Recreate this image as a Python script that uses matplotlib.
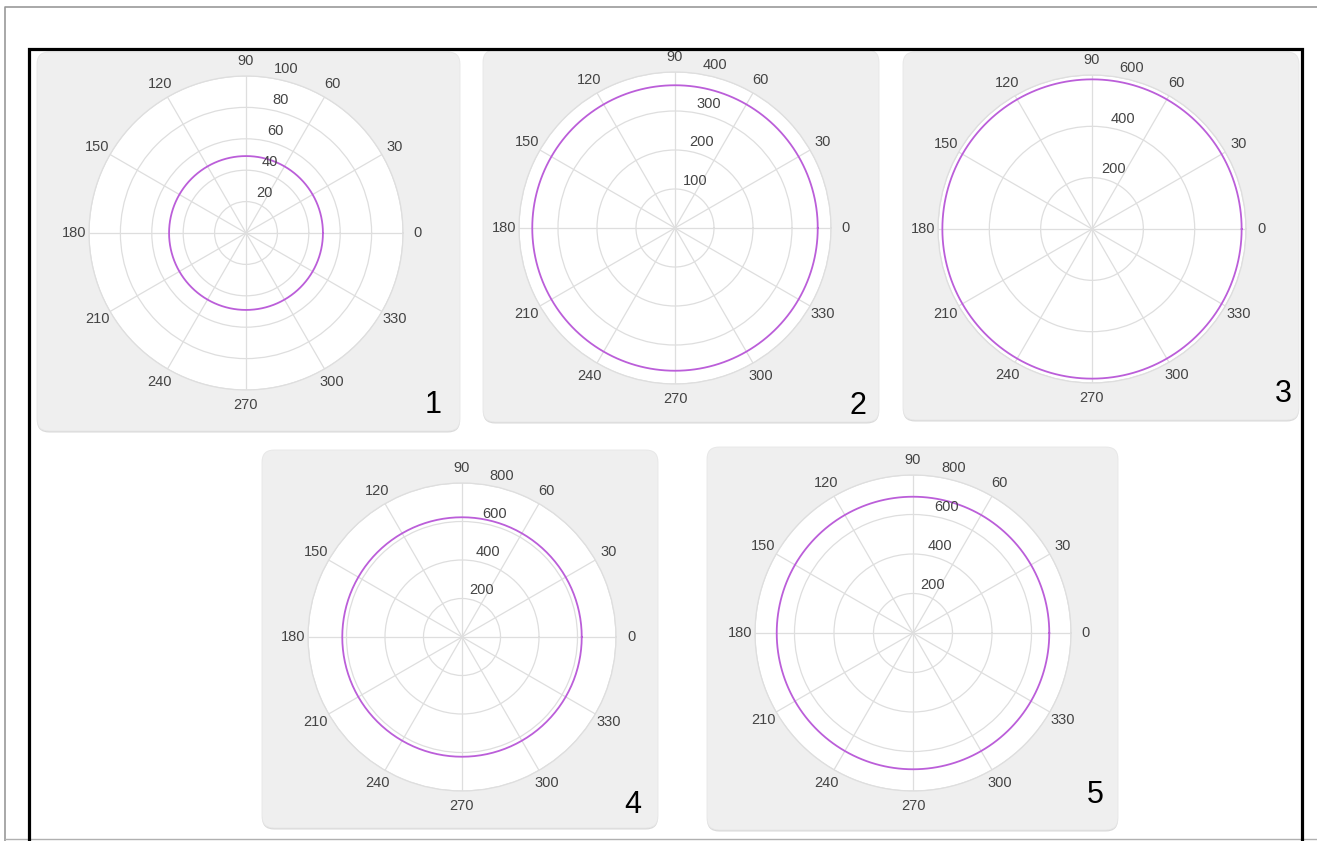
import numpy as np
import matplotlib.pyplot as plt
from matplotlib.patches import FancyBboxPatch
from matplotlib.transforms import offset_copy

plt.rcParams['font.family'] = ['Liberation Sans', 'DejaVu Sans']

W, H = 1317, 841

# one entry per polar panel
panel_names = ['1', '2', '3', '4', '5']
r_max = [100, 400, 600, 800, 800]
r_ticks = [
    [20, 40, 60, 80, 100],
    [100, 200, 300, 400],
    [200, 400, 600],
    [200, 400, 600, 800],
    [200, 400, 600, 800],
]
trace_r = [49, 366, 583, 622, 690]
theta_ticks = list(range(0, 360, 30))
theta_labels = [str(t) for t in theta_ticks]

# layout in pixels (x, y from top-left)
centers = [(246, 233), (675, 228), (1092, 229), (462, 637), (913, 633)]
radii = [157, 156, 154, 154, 158]
boxes = [(37, 52, 460, 431), (483, 50, 879, 422), (903, 52, 1299, 420),
         (262, 450, 658, 828), (707, 447, 1118, 830)]
number_pos = [(433, 405), (858, 406), (1283, 394), (633, 805), (1095, 795)]

trace_color = '#bb5ed9'
grid_color = '#dedede'
text_color = '#444444'
label_size = 10.5

fig = plt.figure(figsize=(W / 100, H / 100), dpi=100)
fig.patch.set_facecolor('white')

# background layer in pixel coordinates
bg = fig.add_axes([0, 0, 1, 1])
bg.set_xlim(0, W)
bg.set_ylim(H, 0)
bg.axis('off')
bg.set_zorder(-1)

# outer thin frame and thick black frame
bg.plot([5, 5, W + 5], [H + 5, 7, 7], color='#9a9a9a', lw=1.2)
bg.plot([5, W + 5], [839, 839], color='#b0b0b0', lw=1.0)
bg.plot([28.5, 28.5, 1301.5, 1301.5], [H + 5, 48.5, 48.5, H + 5],
        color='black', lw=2.3, solid_joinstyle='miter')

for (x0, y0, x1, y1), name, (nx, ny) in zip(boxes, panel_names, number_pos):
    shadow = FancyBboxPatch((x0, y0 + 1.5), x1 - x0, y1 - y0,
                            boxstyle='round,pad=0,rounding_size=12',
                            fc='#d9d9d9', ec='none')
    bg.add_patch(shadow)
    card = FancyBboxPatch((x0, y0), x1 - x0, y1 - y0,
                          boxstyle='round,pad=0,rounding_size=12',
                          fc='#efefef', ec='#e6e6e6', lw=0.6)
    bg.add_patch(card)
    bg.text(nx, ny, name, fontsize=22, ha='center', va='center', color='black')

theta = np.deg2rad(np.arange(0, 361))

for i in range(len(panel_names)):
    cx, cy = centers[i]
    R = radii[i]
    ax = fig.add_axes([(cx - R) / W, 1 - (cy + R) / H, 2 * R / W, 2 * R / H],
                      projection='polar')
    ax.set_facecolor('white')
    ax.plot(theta, np.full_like(theta, trace_r[i]), color=trace_color, lw=1.3)
    ax.set_ylim(0, r_max[i])
    ax.set_yticks(r_ticks[i])
    ax.set_yticklabels([])
    ax.set_thetagrids(theta_ticks, [])
    ax.grid(color=grid_color, lw=0.9)
    ax.spines['polar'].set_color(grid_color)
    ax.spines['polar'].set_linewidth(0.9)

    # angle labels centred just outside the rim
    for t, lab in zip(theta_ticks, theta_labels):
        a = np.deg2rad(t)
        tr = offset_copy(ax.transData, fig=fig, x=15 * np.cos(a),
                         y=15 * np.sin(a), units='dots')
        ax.text(a, r_max[i], lab, transform=tr, ha='center', va='center',
                fontsize=label_size, color=text_color, clip_on=False)

    # radial tick labels along the 80 degree direction, nudged right
    trans = offset_copy(ax.transData, fig=fig, x=13, y=9, units='dots')
    for r in r_ticks[i]:
        ax.text(np.deg2rad(80), r, str(r), transform=trans, ha='center',
                va='center', fontsize=label_size, color=text_color,
                clip_on=False)

fig.savefig('out.png', dpi=100)
